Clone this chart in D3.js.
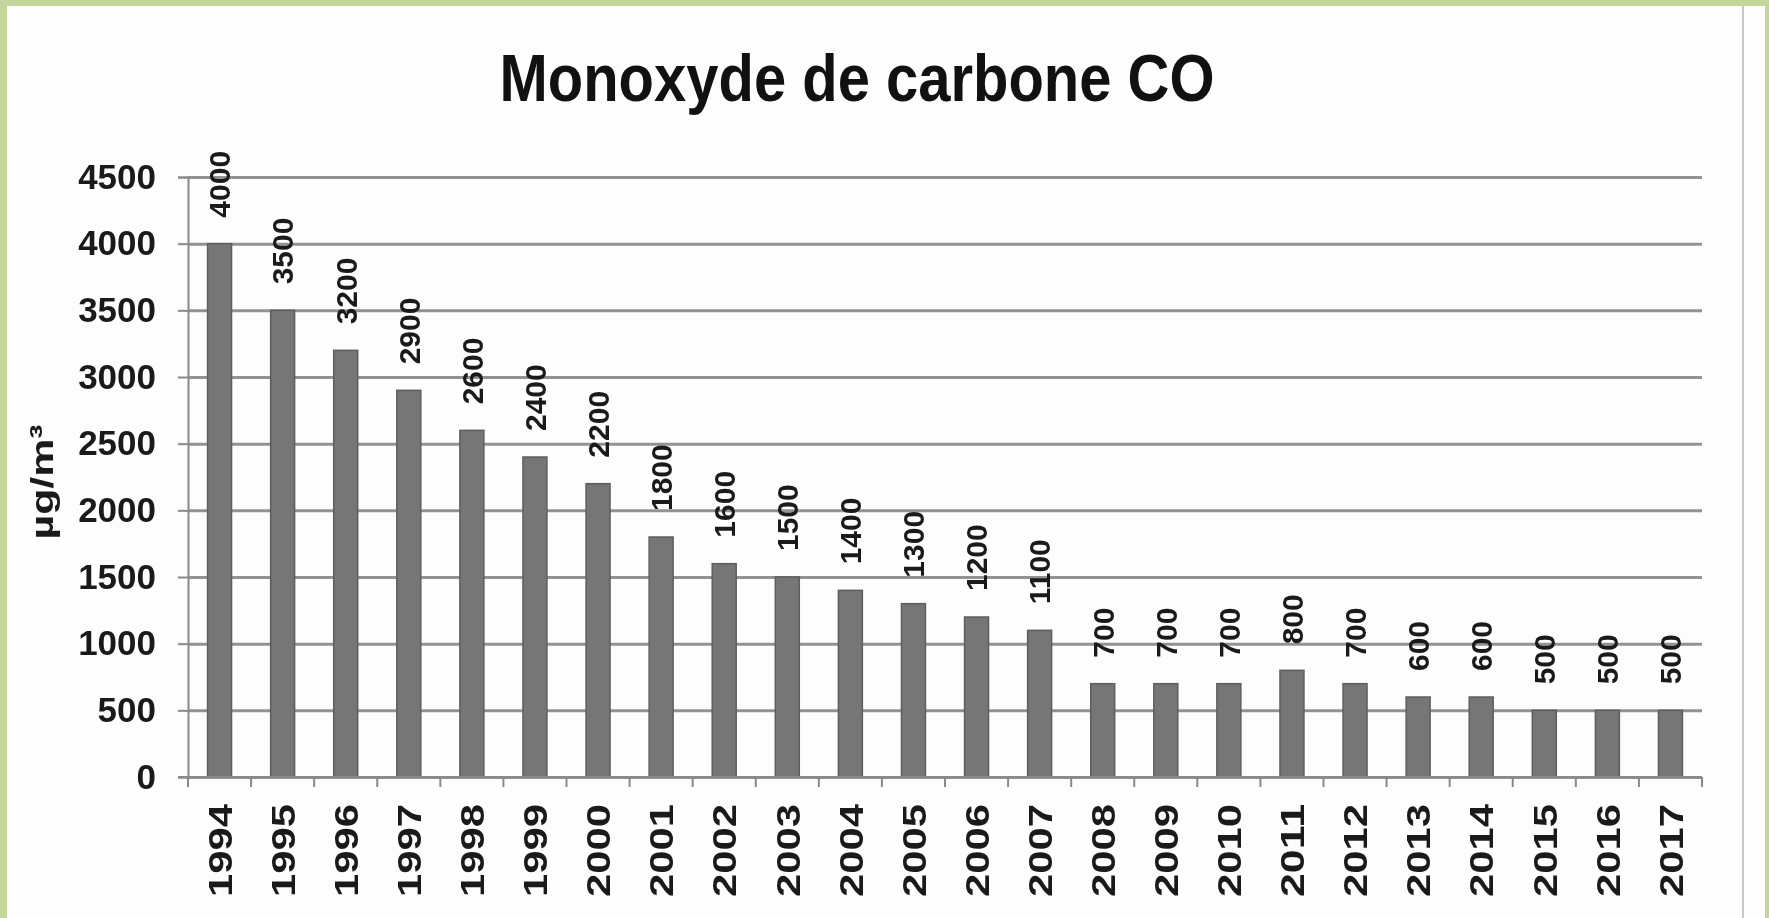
<!DOCTYPE html>
<html>
<head>
<meta charset="utf-8">
<script src="https://cdn.jsdelivr.net/npm/d3@7"></script>
<style>
  html, body { margin: 0; padding: 0; background: #c4d69b; }
  svg { display: block; filter: blur(0.6px); }
</style>
</head>
<body>
<script>
// chart data
const years = ["1994", "1995", "1996", "1997", "1998", "1999", "2000", "2001", "2002", "2003", "2004", "2005",
               "2006", "2007", "2008", "2009", "2010", "2011", "2012", "2013", "2014", "2015", "2016", "2017"];
const coValues = [4000, 3500, 3200, 2900, 2600, 2400, 2200, 1800, 1600, 1500, 1400, 1300,
                  1200, 1100, 700, 700, 700, 800, 700, 600, 600, 500, 500, 500];
const yTicks = [0, 500, 1000, 1500, 2000, 2500, 3000, 3500, 4000, 4500];
const chartTitle = "Monoxyde de carbone CO";
const yLabel = "µg/m³";

function drawChart(width, height) {
    const font = "'Liberation Sans', Arial, sans-serif";

    const svg = d3.select("body")
        .append("svg")
        .attr("width", width)
        .attr("height", height);

    // page (white sheet inside green frame)
    svg.append("rect")
        .attr("x", 7).attr("y", 6)
        .attr("width", width - 11).attr("height", height - 6)
        .attr("fill", "#fdfdfd");

    // scan edge on the right
    svg.append("line")
        .attr("x1", 1743).attr("x2", 1743)
        .attr("y1", 6).attr("y2", height)
        .attr("stroke", "#c8c8c8")
        .attr("stroke-width", 2);

    // plot area
    const plot = { left: 188, right: 1702, top: 177, bottom: 777 };

    const x = d3.scaleBand()
        .domain(years)
        .range([plot.left, plot.right])
        .paddingInner(0.62)
        .paddingOuter(0.31);

    const y = d3.scaleLinear()
        .domain([0, 4500])
        .range([plot.bottom, plot.top]);

    // horizontal gridlines
    svg.append("g")
        .attr("transform", `translate(${plot.left},0)`)
        .call(d3.axisLeft(y).tickValues(yTicks).tickSize(-(plot.right - plot.left)).tickFormat(""))
        .call(g => g.select(".domain").remove())
        .call(g => g.selectAll(".tick line")
            .attr("stroke", "#929292")
            .attr("stroke-width", 3));

    // y axis with labels
    svg.append("g")
        .attr("transform", `translate(${plot.left},0)`)
        .call(d3.axisLeft(y).tickValues(yTicks).tickFormat(d3.format("d")).tickSize(10).tickPadding(22))
        .call(g => g.select(".domain").attr("stroke", "#8a8a8a").attr("stroke-width", 2))
        .call(g => g.selectAll(".tick line").attr("stroke", "#8a8a8a").attr("stroke-width", 2))
        .call(g => g.selectAll(".tick text")
            .attr("fill", "#1a1a1a")
            .style("font-family", font)
            .style("font-weight", "bold")
            .style("font-size", "35px"));

    // bars
    svg.append("g")
        .selectAll("rect")
        .data(coValues)
        .join("rect")
        .attr("x", (d, i) => x(years[i]))
        .attr("y", d => y(d))
        .attr("width", x.bandwidth())
        .attr("height", d => y(0) - y(d))
        .attr("fill", "#767676")
        .attr("stroke", "#5e5e5e")
        .attr("stroke-width", 1.5);

    // x axis (ticks between categories)
    const xAxis = svg.append("g")
        .attr("transform", `translate(0,${plot.bottom})`);
    xAxis.append("line")
        .attr("x1", plot.left - 10).attr("x2", plot.right)
        .attr("stroke", "#8a8a8a").attr("stroke-width", 2);
    xAxis.selectAll(".sep")
        .data(years.concat(["end"]))
        .join("line")
        .attr("class", "sep")
        .attr("x1", (d, i) => plot.left + i * x.step())
        .attr("x2", (d, i) => plot.left + i * x.step())
        .attr("y1", 0).attr("y2", 10)
        .attr("stroke", "#8a8a8a").attr("stroke-width", 2);
    xAxis.selectAll(".year")
        .data(years)
        .join("text")
        .attr("class", "year")
        .attr("transform", d => `translate(${x(d) + x.bandwidth() / 2},27) rotate(-90)`)
        .attr("text-anchor", "end")
        .attr("dy", "0.36em")
        .attr("textLength", 93)
        .attr("lengthAdjust", "spacingAndGlyphs")
        .attr("fill", "#1a1a1a")
        .style("font-family", font)
        .style("font-weight", "bold")
        .style("font-size", "34px")
        .text(d => d);

    // value labels above bars
    svg.append("g")
        .selectAll("text")
        .data(coValues)
        .join("text")
        .attr("transform", (d, i) => `translate(${x(years[i]) + x.bandwidth() / 2},${y(d) - 26}) rotate(-90)`)
        .attr("text-anchor", "start")
        .attr("dy", "0.36em")
        .attr("fill", "#1a1a1a")
        .style("font-family", font)
        .style("font-weight", "bold")
        .style("font-size", "30px")
        .text(d => d);

    // y axis title
    svg.append("text")
        .attr("transform", `translate(41,482) rotate(-90)`)
        .attr("text-anchor", "middle")
        .attr("dy", "0.36em")
        .attr("textLength", 115)
        .attr("lengthAdjust", "spacingAndGlyphs")
        .attr("fill", "#1a1a1a")
        .style("font-family", font)
        .style("font-weight", "bold")
        .style("font-size", "32px")
        .text(yLabel);

    // title
    svg.append("text")
        .attr("x", 857)
        .attr("y", 101)
        .attr("text-anchor", "middle")
        .attr("textLength", 715)
        .attr("lengthAdjust", "spacingAndGlyphs")
        .attr("fill", "#111")
        .style("font-family", font)
        .style("font-weight", "bold")
        .style("font-size", "66px")
        .text(chartTitle);
}

drawChart(1769, 918);
</script>
</body>
</html>
